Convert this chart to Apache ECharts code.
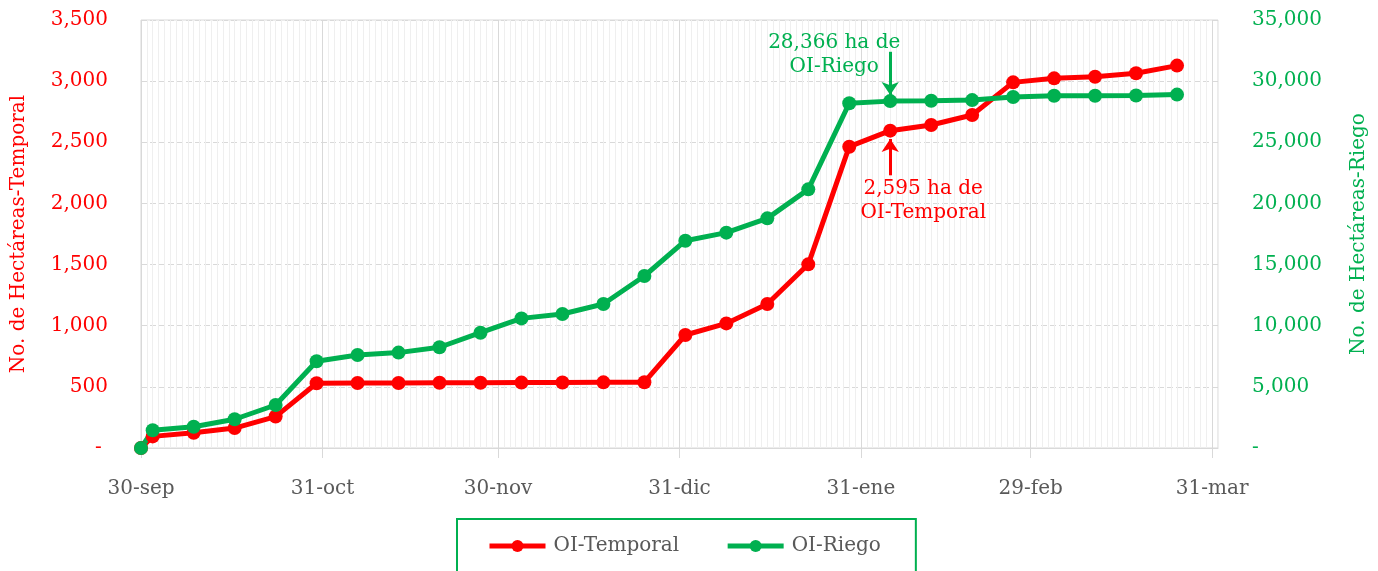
<!DOCTYPE html>
<html>
<head>
<meta charset="utf-8">
<title>OI Temporal y Riego</title>
<script src="https://cdn.jsdelivr.net/npm/echarts@6/dist/echarts.min.js"></script>
<style>
	html, body { margin: 0; padding: 0; background: #ffffff; }
	#chart { width: 1378px; height: 571px; }
</style>
</head>
<body>
<div id="chart"></div>
<script>
// fechas de corte (lunes) y superficie acumulada
var fechas = ['2023-09-30', '2023-10-02', '2023-10-09', '2023-10-16', '2023-10-23', '2023-10-30',
	'2023-11-06', '2023-11-13', '2023-11-20', '2023-11-27', '2023-12-04', '2023-12-11',
	'2023-12-18', '2023-12-25', '2024-01-01', '2024-01-08', '2024-01-15', '2024-01-22',
	'2024-01-29', '2024-02-05', '2024-02-12', '2024-02-19', '2024-02-26', '2024-03-04',
	'2024-03-11', '2024-03-18', '2024-03-25'];

var temporal = [0, 95, 125, 163, 257, 529, 531, 532, 533, 534, 535, 536,
	537, 538, 924, 1019, 1178, 1502, 2464, 2595, 2641, 2723, 2990, 3023,
	3036, 3064, 3127];

var riego = [0, 1450, 1740, 2350, 3516, 7100, 7610, 7800, 8240, 9430, 10600, 10960,
	11775, 14065, 16950, 17610, 18780, 21150, 28190, 28366, 28400, 28450, 28700, 28800,
	28810, 28830, 28900];

// etiquetas del eje x (fin de mes)
var finesDeMes = ['2023-09-30', '2023-10-31', '2023-11-30', '2023-12-31', '2024-01-31', '2024-02-29', '2024-03-31'];
var etiquetasX = ['30-sep', '31-oct', '30-nov', '31-dic', '31-ene', '29-feb', '31-mar'];

var ejeInicio = '2023-09-30';
var ejeFin = '2024-04-01';

var rojo = '#ff0000';
var verde = '#00b050';
var gris = '#595959';
var fuente = 'DejaVu Serif';

// one category per day, so the daily grid lines come out of the axis itself
var dias = [];
var t = Date.parse(ejeInicio + 'T00:00:00Z');
var tFin = Date.parse(ejeFin + 'T00:00:00Z');
while (t <= tFin) {
	dias.push(new Date(t).toISOString().slice(0, 10));
	t += 86400000;
}

function esFinDeMes(idx, valor) {
	return finesDeMes.indexOf(valor) >= 0;
}

function noEsFinDeMes(idx, valor) {
	return finesDeMes.indexOf(valor) < 0;
}

function miles(v) {
	if (v === 0) return '- ';
	return v.toLocaleString('en-US');
}

function pares(valores) {
	return fechas.map(function(f, i) { return [f, valores[i]]; });
}

var chart = echarts.init(document.getElementById('chart'));

chart.setOption({
	animation: false,
	textStyle: { fontFamily: fuente },
	grid: {
		left: 141,
		right: 160,
		top: 20,
		bottom: 123,
		outerBoundsMode: 'none',
		containLabel: false,
		show: true,
		borderColor: '#d9d9d9',
		borderWidth: 1
	},
	legend: {
		left: 457,
		top: 519,
		padding: [17, 35, 40, 30],
		borderColor: verde,
		borderWidth: 2,
		itemWidth: 56,
		itemHeight: 15,
		itemGap: 46,
		lineStyle: { width: 5 },
		textStyle: { color: gris, fontSize: 20, fontFamily: fuente, padding: [0, 0, 0, 3] },
		data: ['OI-Temporal', 'OI-Riego']
	},
	xAxis: [
		{
			type: 'category',
			data: dias,
			boundaryGap: false,
			axisLine: { show: true, lineStyle: { color: '#d9d9d9', width: 1 } },
			axisTick: { show: true, interval: esFinDeMes, length: 10, lineStyle: { color: '#d9d9d9' } },
			axisLabel: {
				interval: esFinDeMes,
				margin: 31,
				color: gris,
				fontSize: 20,
				fontFamily: fuente,
				formatter: function(v) {
					return etiquetasX[finesDeMes.indexOf(v)];
				}
			},
			splitLine: { show: true, interval: esFinDeMes, lineStyle: { color: '#d9d9d9', width: 1 } }
		},
		{
			// minor daily lines
			type: 'category',
			data: dias,
			boundaryGap: false,
			position: 'bottom',
			axisLine: { show: false },
			axisTick: { show: false },
			axisLabel: { show: false },
			splitLine: { show: true, interval: noEsFinDeMes, lineStyle: { color: '#efefef', width: 1 } }
		}
	],
	yAxis: [
		{
			type: 'value',
			min: 0,
			max: 3500,
			interval: 500,
			position: 'left',
			name: 'No. de Hectáreas-Temporal',
			nameLocation: 'middle',
			nameRotate: 90,
			nameGap: 112,
			nameTextStyle: { color: rojo, fontSize: 20, fontFamily: fuente },
			axisLine: { show: false },
			axisTick: { show: false },
			axisLabel: { color: rojo, fontSize: 20, fontFamily: fuente, margin: 33, formatter: miles },
			splitLine: { show: true, lineStyle: { color: '#d9d9d9', type: [6, 3], width: 1 } }
		},
		{
			type: 'value',
			min: 0,
			max: 35000,
			interval: 5000,
			position: 'right',
			name: 'No. de Hectáreas-Riego',
			nameLocation: 'middle',
			nameRotate: 90,
			nameGap: 131,
			nameTextStyle: { color: verde, fontSize: 20, fontFamily: fuente },
			axisLine: { show: false },
			axisTick: { show: false },
			axisLabel: { color: verde, fontSize: 20, fontFamily: fuente, margin: 34, formatter: function(v) {
				return v === 0 ? '-' : v.toLocaleString('en-US');
			} },
			splitLine: { show: false }
		}
	],
	series: [
		{
			name: 'OI-Temporal',
			type: 'line',
			xAxisIndex: 0,
			yAxisIndex: 0,
			data: pares(temporal),
			symbol: 'circle',
			symbolSize: 14,
			showAllSymbol: true,
			color: rojo,
			lineStyle: { color: rojo, width: 5 },
			markPoint: {
				silent: true,
				symbol: 'circle',
				symbolSize: 1,
				itemStyle: { color: 'transparent' },
				label: {
					show: true,
					position: 'inside',
					offset: [33, 70],
					color: rojo,
					fontSize: 20,
					lineHeight: 24,
					fontFamily: fuente,
					align: 'center',
					formatter: '2,595 ha de\nOI-Temporal'
				},
				data: [{ coord: ['2024-02-05', 2595] }]
			},
			markLine: {
				silent: true,
				symbol: ['none', 'arrow'],
				symbolSize: 13,
				label: { show: false },
				lineStyle: { color: rojo, width: 3, type: 'solid' },
				data: [[{ coord: ['2024-02-05', 2230] }, { coord: ['2024-02-05', 2527] }]]
			}
		},
		{
			name: 'OI-Riego',
			type: 'line',
			xAxisIndex: 0,
			yAxisIndex: 1,
			data: pares(riego),
			symbol: 'circle',
			symbolSize: 14,
			showAllSymbol: true,
			color: verde,
			lineStyle: { color: verde, width: 5 },
			markPoint: {
				silent: true,
				symbol: 'circle',
				symbolSize: 1,
				itemStyle: { color: 'transparent' },
				label: {
					show: true,
					position: 'inside',
					offset: [-56, -46],
					color: verde,
					fontSize: 20,
					lineHeight: 24,
					fontFamily: fuente,
					align: 'center',
					formatter: '28,366 ha de\nOI-Riego'
				},
				data: [{ coord: ['2024-02-05', 28366] }]
			},
			markLine: {
				silent: true,
				symbol: ['none', 'arrow'],
				symbolSize: 13,
				label: { show: false },
				lineStyle: { color: verde, width: 3, type: 'solid' },
				data: [[{ coord: ['2024-02-05', 32400] }, { coord: ['2024-02-05', 28870] }]]
			}
		}
	]
});
</script>
</body>
</html>
